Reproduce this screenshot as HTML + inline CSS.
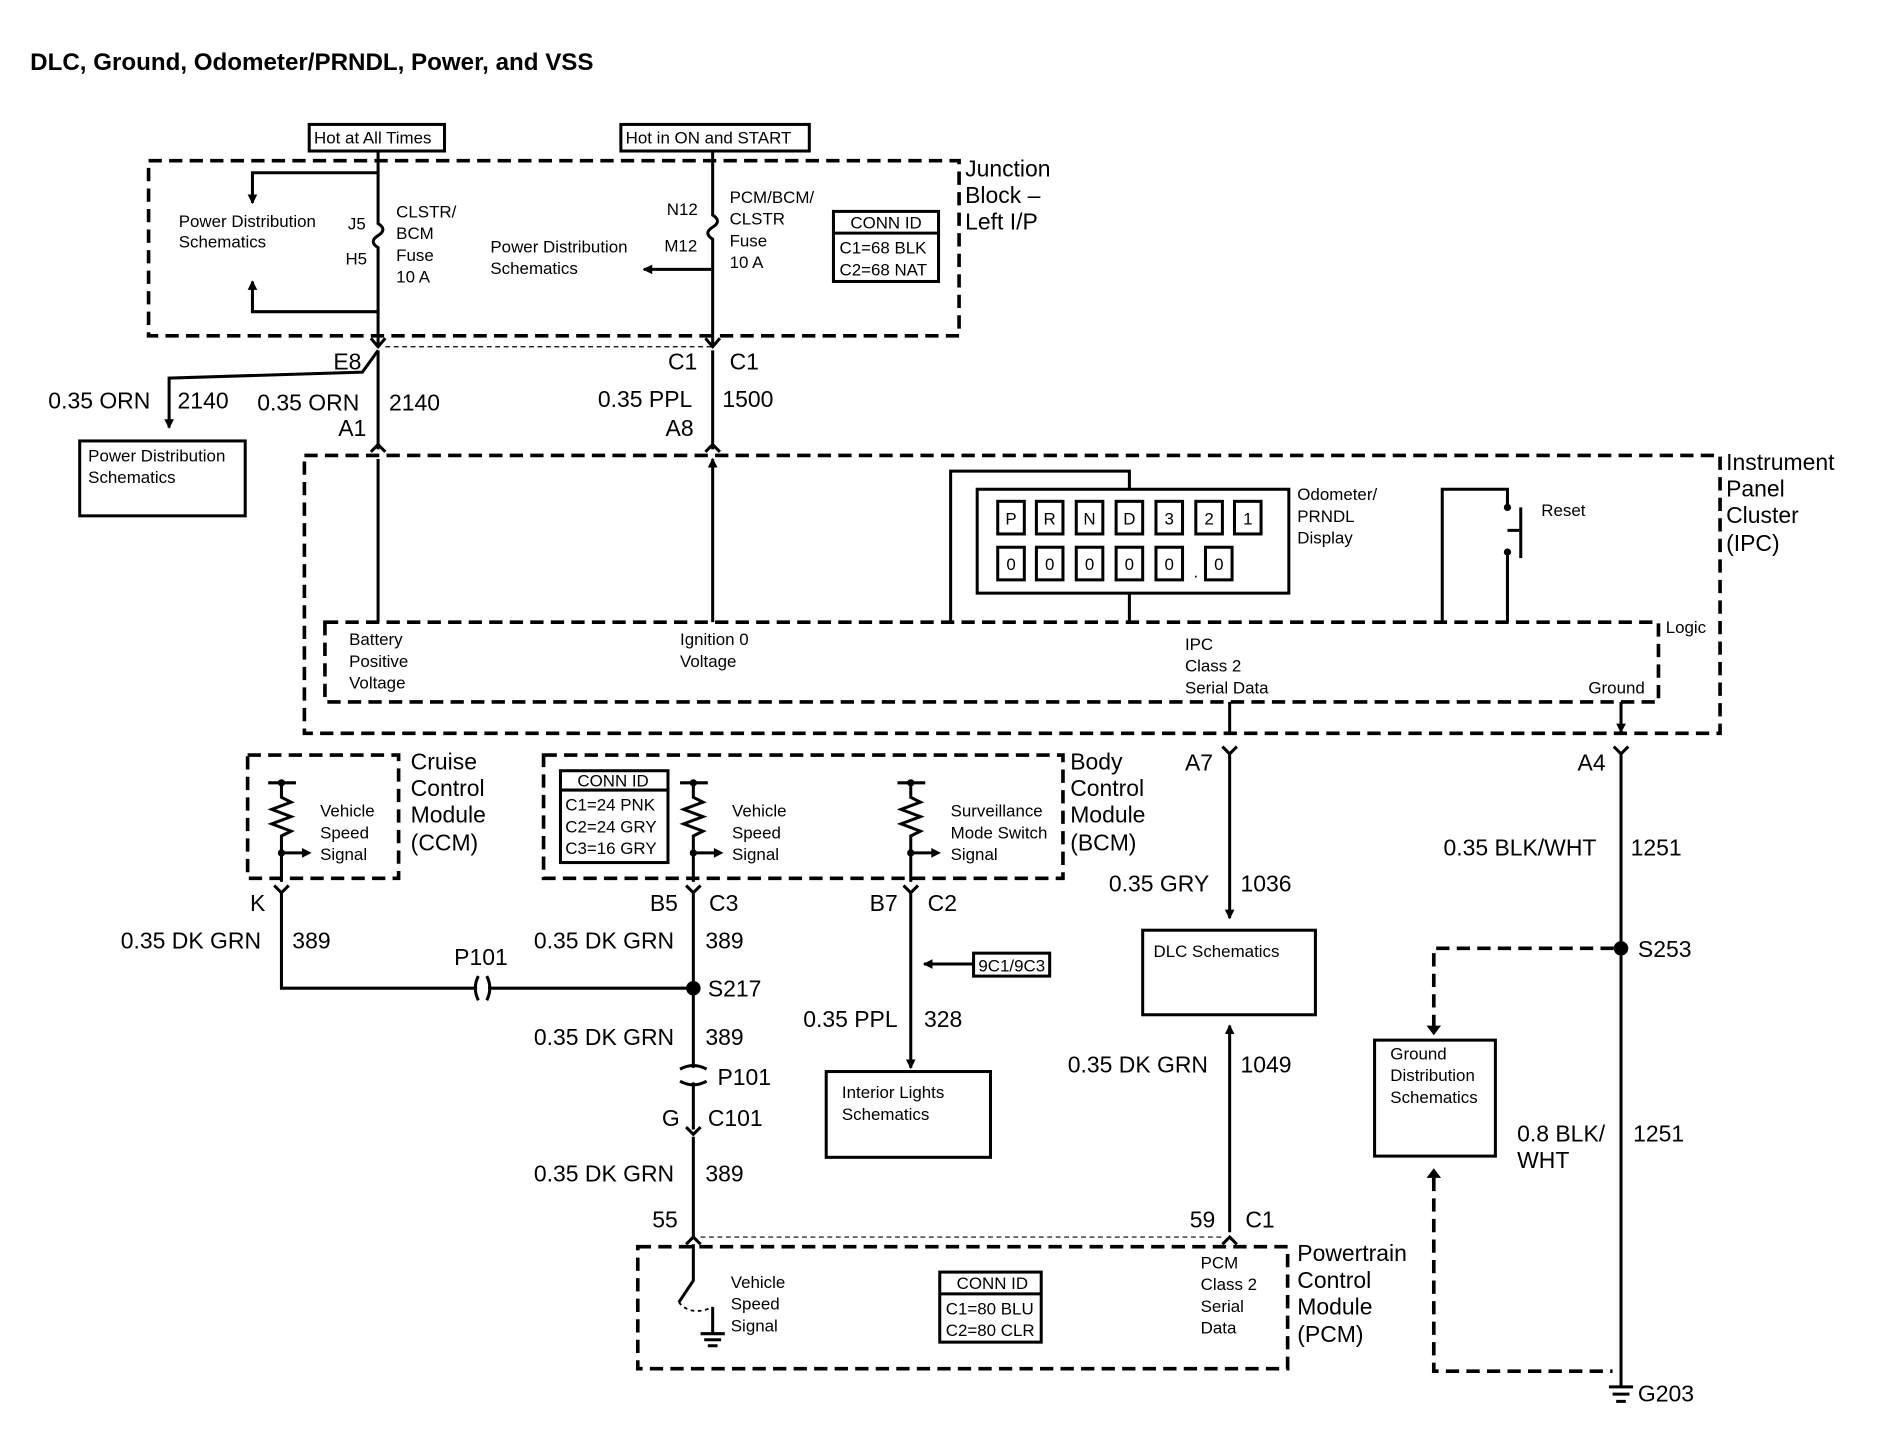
<!DOCTYPE html>
<html><head><meta charset="utf-8"><style>
html,body{margin:0;padding:0;background:#fff}
svg{display:block}
text{font-family:"Liberation Sans",Arial,sans-serif;fill:#000}
.s{font-size:14px}.m{font-size:19px}.t{font-size:20px;font-weight:bold}
.l{stroke:#000;stroke-width:2.5;fill:none}
.d{stroke:#000;stroke-width:3;fill:none;stroke-dasharray:11,6}
.b{stroke:#000;stroke-width:3;fill:#fff}
</style></head><body>
<svg width="1894" height="1440" viewBox="0 0 1568 1192" preserveAspectRatio="none" xmlns="http://www.w3.org/2000/svg">
<defs><marker id="a" markerWidth="8" markerHeight="8" refX="7" refY="4" orient="auto" markerUnits="userSpaceOnUse"><path d="M0,0 L8,4 L0,8z" fill="#000"/></marker></defs>
<text x="25" y="58" class="t">DLC, Ground, Odometer/PRNDL, Power, and VSS</text>
<rect x="256" y="103" width="112" height="22" class="l"/><text x="260" y="119" class="s">Hot at All Times</text>
<rect x="514" y="103" width="156" height="22" class="l"/><text x="518" y="119" class="s">Hot in ON and START</text>
<rect x="123" y="133" width="671" height="145" class="d"/>
<text x="799" y="146" class="m">Junction</text><text x="799" y="168" class="m">Block –</text><text x="799" y="190" class="m">Left I/P</text>
<path d="M313,125V185 q8,5 0,10 q-8,5 0,10 V278" class="l"/>
<text x="288" y="190" class="s">J5</text><text x="286" y="219" class="s">H5</text>
<text x="328" y="180" class="s">CLSTR/</text><text x="328" y="198" class="s">BCM</text><text x="328" y="216" class="s">Fuse</text><text x="328" y="234" class="s">10 A</text>
<path d="M313,143H209V168" class="l" marker-end="url(#a)"/><path d="M313,258H209V233" class="l" marker-end="url(#a)"/>
<text x="148" y="188" class="s">Power Distribution</text><text x="148" y="205" class="s">Schematics</text>
<path d="M590,125V178 q8,5 0,10 q-8,5 0,10 V278" class="l"/>
<text x="552" y="178" class="s">N12</text><text x="550" y="208" class="s">M12</text>
<text x="604" y="168" class="s">PCM/BCM/</text><text x="604" y="186" class="s">CLSTR</text><text x="604" y="204" class="s">Fuse</text><text x="604" y="222" class="s">10 A</text>
<path d="M590,223H533" class="l" marker-end="url(#a)"/>
<text x="406" y="209" class="s">Power Distribution</text><text x="406" y="227" class="s">Schematics</text>
<rect x="690" y="175" width="87" height="58" class="l"/><line x1="690" y1="193" x2="777" y2="193" class="l"/>
<text x="704" y="189" class="s">CONN ID</text><text x="695" y="210" class="s">C1=68 BLK</text><text x="695" y="228" class="s">C2=68 NAT</text>
<path d="M313,278V285 M590,278V285" class="l"/>
<path d="M307,280l6,7l6,-7 M584,280l6,7l6,-7" class="l" stroke-width="1.5"/>
<line x1="319" y1="287" x2="590" y2="287" stroke="#000" stroke-width="1" stroke-dasharray="4,3"/>
<text x="276" y="306" class="m">E8</text><text x="553" y="306" class="m">C1</text><text x="604" y="306" class="m">C1</text>
<path d="M313,290L300,308 140,313V354" class="l" marker-end="url(#a)"/>
<path d="M313,290V372 M590,290V372" class="l"/>
<path d="M307,374l6,-6l6,6 M584,374l6,-6l6,6" class="l" stroke-width="1.5"/>
<text x="40" y="338" class="m">0.35 ORN</text><text x="147" y="338" class="m">2140</text>
<text x="213" y="340" class="m">0.35 ORN</text><text x="322" y="340" class="m">2140</text><text x="280" y="361" class="m">A1</text>
<text x="495" y="337" class="m">0.35 PPL</text><text x="598" y="337" class="m">1500</text><text x="551" y="361" class="m">A8</text>
<rect x="66" y="365" width="137" height="62" class="l"/><text x="73" y="382" class="s">Power Distribution</text><text x="73" y="400" class="s">Schematics</text>
<rect x="252" y="377" width="1172" height="230" class="d"/>
<text x="1429" y="389" class="m">Instrument</text><text x="1429" y="411" class="m">Panel</text><text x="1429" y="433" class="m">Cluster</text><text x="1429" y="456" class="m">(IPC)</text>
<rect x="269" y="515" width="1104" height="66" class="d"/><text x="1379" y="524" class="s">Logic</text>
<path d="M313,515V380 M590,515V380" class="l" marker-end="url(#a)"/>
<text x="289" y="534" class="s">Battery</text><text x="289" y="552" class="s">Positive</text><text x="289" y="570" class="s">Voltage</text>
<text x="563" y="534" class="s">Ignition 0</text><text x="563" y="552" class="s">Voltage</text>
<text x="981" y="538" class="s">IPC</text><text x="981" y="556" class="s">Class 2</text><text x="981" y="574" class="s">Serial Data</text>
<text x="1315" y="574" class="s">Ground</text>
<path d="M787,515V390H935V405 M935,491V515" class="l"/>
<rect x="809" y="405" width="258" height="86" class="l"/>
<g class="l" stroke-width="2">
<rect x="826" y="415" width="22" height="27"/><rect x="858" y="415" width="22" height="27"/><rect x="891" y="415" width="22" height="27"/><rect x="924" y="415" width="22" height="27"/><rect x="957" y="415" width="22" height="27"/><rect x="990" y="415" width="22" height="27"/><rect x="1022" y="415" width="22" height="27"/>
<rect x="826" y="453" width="22" height="27"/><rect x="858" y="453" width="22" height="27"/><rect x="891" y="453" width="22" height="27"/><rect x="924" y="453" width="22" height="27"/><rect x="957" y="453" width="22" height="27"/><rect x="998" y="453" width="22" height="27"/></g>
<g class="s" text-anchor="middle"><text x="837" y="434">P</text><text x="869" y="434">R</text><text x="902" y="434">N</text><text x="935" y="434">D</text><text x="968" y="434">3</text><text x="1001" y="434">2</text><text x="1033" y="434">1</text>
<text x="837" y="472">0</text><text x="869" y="472">0</text><text x="902" y="472">0</text><text x="935" y="472">0</text><text x="968" y="472">0</text><text x="1009" y="472">0</text><text x="990" y="478">.</text></g>
<text x="1074" y="414" class="s">Odometer/</text><text x="1074" y="432" class="s">PRNDL</text><text x="1074" y="450" class="s">Display</text>
<path d="M1194,515V405H1248V418 M1248,458V515 M1248,439H1259 M1259,420V462" class="l"/>
<circle cx="1248" cy="420" r="3"/><circle cx="1248" cy="457" r="3"/>
<text x="1276" y="427" class="s">Reset</text>
<path d="M1018,581V606 M1342,581V606" class="l" marker-end="url(#a)"/>
<path d="M1012,618l6,6l6,-6 M1336,618l6,6l6,-6" class="l" stroke-width="1.5"/>
<text x="981" y="638" class="m">A7</text><text x="1306" y="638" class="m">A4</text>
<path d="M1018,624V760" class="l" marker-end="url(#a)"/><path d="M1342,624V1148" class="l"/>
<text x="918" y="738" class="m">0.35 GRY</text><text x="1027" y="738" class="m">1036</text>
<text x="1195" y="708" class="m">0.35 BLK/WHT</text><text x="1350" y="708" class="m">1251</text>
<rect x="946" y="770" width="143" height="70" class="l"/><text x="955" y="792" class="s">DLC Schematics</text>
<path d="M1018,1020V849" class="l" marker-end="url(#a)"/>
<text x="884" y="888" class="m">0.35 DK GRN</text><text x="1027" y="888" class="m">1049</text>
<text x="985" y="1016" class="m">59</text><text x="1031" y="1016" class="m">C1</text>
<circle cx="1342" cy="785" r="6"/><text x="1356" y="792" class="m">S253</text>
<path d="M1336,785H1187V853" class="d" stroke-width="2"/><path d="M1181,849l6,8l6,-8z" fill="#000"/>
<rect x="1138" y="861" width="100" height="96" class="l"/>
<text x="1151" y="877" class="s">Ground</text><text x="1151" y="895" class="s">Distribution</text><text x="1151" y="913" class="s">Schematics</text>
<path d="M1187,975V1135H1335" class="d" stroke-width="2"/><path d="M1181,975l6,-8l6,8z" fill="#000"/>
<text x="1256" y="945" class="m">0.8 BLK/</text><text x="1256" y="967" class="m">WHT</text><text x="1352" y="945" class="m">1251</text>
<path d="M1332,1148H1352 M1335,1154H1349 M1338,1160H1346" class="l" stroke-width="2"/><text x="1356" y="1160" class="m">G203</text>
<rect x="205" y="625" width="125" height="102" class="d"/>
<text x="340" y="637" class="m">Cruise</text><text x="340" y="659" class="m">Control</text><text x="340" y="681" class="m">Module</text><text x="340" y="704" class="m">(CCM)</text>
<path d="M222,648H245 M233,648V660 l8,4 -16,6 16,6 -16,6 16,6 -8,4 V730 M233,706H255" class="l" stroke-width="2"/><circle cx="233" cy="648" r="3"/><circle cx="233" cy="706" r="3"/>
<path d="M250,702l8,4l-8,4z"/>
<text x="265" y="676" class="s">Vehicle</text><text x="265" y="694" class="s">Speed</text><text x="265" y="712" class="s">Signal</text>
<path d="M227,733l6,6l6,-6 M568,733l6,6l6,-6 M748,733l6,6l6,-6" class="l" stroke-width="1.5"/>
<text x="207" y="754" class="m">K</text>
<path d="M233,739V818H395 M404,818H574" class="l"/>
<path d="M396,808q-5,10 0,20 M403,808q5,10 0,20" class="l" stroke-width="2"/>
<text x="100" y="785" class="m">0.35 DK GRN</text><text x="242" y="785" class="m">389</text><text x="376" y="799" class="m">P101</text>
<rect x="450" y="625" width="430" height="102" class="d"/>
<text x="886" y="637" class="m">Body</text><text x="886" y="659" class="m">Control</text><text x="886" y="681" class="m">Module</text><text x="886" y="704" class="m">(BCM)</text>
<rect x="464" y="638" width="89" height="76" class="l"/><line x1="464" y1="654" x2="553" y2="654" class="l"/>
<text x="478" y="651" class="s">CONN ID</text><text x="468" y="671" class="s">C1=24 PNK</text><text x="468" y="689" class="s">C2=24 GRY</text><text x="468" y="707" class="s">C3=16 GRY</text>
<path d="M563,648H586 M574,648V660 l8,4 -16,6 16,6 -16,6 16,6 -8,4 V730 M574,706H596" class="l" stroke-width="2"/><circle cx="574" cy="648" r="3"/><circle cx="574" cy="706" r="3"/><path d="M591,702l8,4l-8,4z"/>
<text x="606" y="676" class="s">Vehicle</text><text x="606" y="694" class="s">Speed</text><text x="606" y="712" class="s">Signal</text>
<path d="M743,648H766 M754,648V660 l8,4 -16,6 16,6 -16,6 16,6 -8,4 V730 M754,706H776" class="l" stroke-width="2"/><circle cx="754" cy="648" r="3"/><circle cx="754" cy="706" r="3"/><path d="M771,702l8,4l-8,4z"/>
<text x="787" y="676" class="s">Surveillance</text><text x="787" y="694" class="s">Mode Switch</text><text x="787" y="712" class="s">Signal</text>
<text x="538" y="754" class="m">B5</text><text x="587" y="754" class="m">C3</text><text x="720" y="754" class="m">B7</text><text x="768" y="754" class="m">C2</text>
<path d="M574,739V884 M574,896V935" class="l"/><circle cx="574" cy="818" r="6"/><text x="586" y="825" class="m">S217</text>
<path d="M563,885q11,-6 22,0 M563,895q11,6 22,0" class="l" stroke-width="2"/><text x="594" y="898" class="m">P101</text>
<text x="442" y="785" class="m">0.35 DK GRN</text><text x="584" y="785" class="m">389</text>
<text x="442" y="865" class="m">0.35 DK GRN</text><text x="584" y="865" class="m">389</text>
<path d="M568,933l6,6l6,-6" class="l" stroke-width="1.5"/>
<text x="548" y="932" class="m">G</text><text x="586" y="932" class="m">C101</text>
<path d="M574,941V1024" class="l"/>
<text x="442" y="978" class="m">0.35 DK GRN</text><text x="584" y="978" class="m">389</text><text x="540" y="1016" class="m">55</text>
<path d="M754,739V884" class="l" marker-end="url(#a)"/>
<path d="M805,798H765" class="l" marker-end="url(#a)"/>
<rect x="806" y="789" width="63" height="19" class="l"/><text x="810" y="804" class="s">9C1/9C3</text>
<text x="665" y="850" class="m">0.35 PPL</text><text x="765" y="850" class="m">328</text>
<rect x="684" y="887" width="136" height="71" class="l"/><text x="697" y="909" class="s">Interior Lights</text><text x="697" y="927" class="s">Schematics</text>
<rect x="528" y="1032" width="538" height="101" class="d"/>
<line x1="580" y1="1024" x2="1012" y2="1024" stroke="#000" stroke-width="1" stroke-dasharray="4,3"/>
<path d="M568,1030l6,-6l6,6 M1012,1030l6,-6l6,6" class="l" stroke-width="1.5"/>
<text x="1074" y="1044" class="m">Powertrain</text><text x="1074" y="1066" class="m">Control</text><text x="1074" y="1088" class="m">Module</text><text x="1074" y="1111" class="m">(PCM)</text>
<path d="M574,1030V1060 L562,1078 M590,1082V1104 M580,1104H600 M583,1109H597 M586,1114H594" class="l" stroke-width="2"/>
<path d="M562,1078q10,12 28,4" stroke="#000" stroke-width="1.5" fill="none" stroke-dasharray="3,3"/>
<text x="605" y="1066" class="s">Vehicle</text><text x="605" y="1084" class="s">Speed</text><text x="605" y="1102" class="s">Signal</text>
<rect x="778" y="1053" width="84" height="58" class="l"/><line x1="778" y1="1071" x2="862" y2="1071" class="l"/>
<text x="792" y="1067" class="s">CONN ID</text><text x="783" y="1088" class="s">C1=80 BLU</text><text x="783" y="1106" class="s">C2=80 CLR</text>
<text x="994" y="1050" class="s">PCM</text><text x="994" y="1068" class="s">Class 2</text><text x="994" y="1086" class="s">Serial</text><text x="994" y="1104" class="s">Data</text>
</svg>
</body></html>
